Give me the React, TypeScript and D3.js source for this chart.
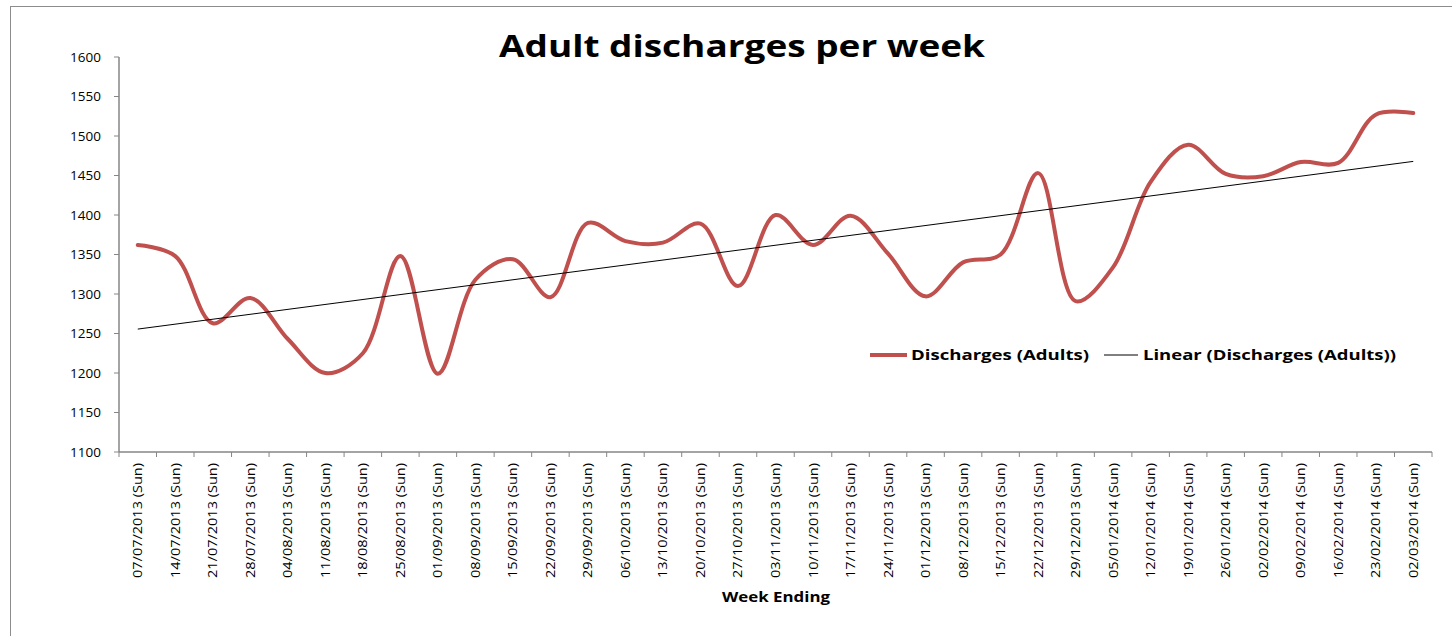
import React from "react";
import * as d3 from "d3";

const weeks: string[] = [
  "07/07/2013", "14/07/2013", "21/07/2013", "28/07/2013",
  "04/08/2013", "11/08/2013", "18/08/2013", "25/08/2013",
  "01/09/2013", "08/09/2013", "15/09/2013", "22/09/2013", "29/09/2013",
  "06/10/2013", "13/10/2013", "20/10/2013", "27/10/2013",
  "03/11/2013", "10/11/2013", "17/11/2013", "24/11/2013",
  "01/12/2013", "08/12/2013", "15/12/2013", "22/12/2013", "29/12/2013",
  "05/01/2014", "12/01/2014", "19/01/2014", "26/01/2014",
  "02/02/2014", "09/02/2014", "16/02/2014", "23/02/2014", "02/03/2014",
];

const discharges: number[] = [
  1362, 1348, 1263, 1295,
  1243, 1200, 1225, 1348,
  1199, 1318, 1344, 1296, 1390,
  1367, 1365, 1389, 1310,
  1400, 1362, 1399, 1351,
  1297, 1340, 1350, 1453, 1291,
  1334, 1442, 1489, 1452,
  1449, 1467, 1466, 1527, 1529,
];

const yTicks: number[] = [1100, 1150, 1200, 1250, 1300, 1350, 1400, 1450, 1500, 1550, 1600];

const title = "Adult discharges per week";
const xTitle = "Week Ending";
const seriesName = "Discharges (Adults)";
const trendName = "Linear (Discharges (Adults))";

const W = 1452;
const H = 636;
const plotLeft = 119;
const plotRight = 1432;
const plotTop = 57;
const plotBottom = 452;
const RED = "#C0504D";
const AXIS = "#868686";
const FONT = "'Open Sans', 'Noto Sans', sans-serif";

export default function App() {
  const x = d3.scaleBand<string>().domain(weeks).range([plotLeft, plotRight]).padding(0);
  const y = d3.scaleLinear().domain([1100, 1600]).range([plotBottom, plotTop]);
  const cx = (w: string) => (x(w) as number) + x.bandwidth() / 2;

  const pts: [number, number][] = discharges.map((v, i) => [cx(weeks[i]), y(v)]);
  const line = d3.line<[number, number]>().x((d) => d[0]).y((d) => d[1]).curve(d3.curveCatmullRom.alpha(0.5));

  // linear regression trend
  const n = discharges.length;
  const idx = discharges.map((_, i) => i + 1);
  const mx = d3.mean(idx) as number;
  const my = d3.mean(discharges) as number;
  let sxy = 0, sxx = 0;
  idx.forEach((xi, i) => { sxy += (xi - mx) * (discharges[i] - my); sxx += (xi - mx) * (xi - mx); });
  const slope = sxy / sxx;
  const intercept = my - slope * mx;
  const t0 = intercept + slope * 1;
  const t1 = intercept + slope * n;

  return (
    <svg width={W} height={H} style={{ position: "absolute", left: 0, top: 0, background: "#fff" }} fontFamily={FONT}>
      <rect x={10.5} y={6.5} width={1600} height={800} fill="#fff" stroke="#8c8c8c" strokeWidth={1} />
      <text x={742} y={57} textAnchor="middle" fontSize={31} fontWeight="bold" fill="#000" textLength={486} lengthAdjust="spacingAndGlyphs">{title}</text>

      {/* y axis */}
      <line x1={plotLeft} x2={plotLeft} y1={plotTop} y2={plotBottom} stroke={AXIS} strokeWidth={1.5} />
      {yTicks.map((t) => (
        <g key={t}>
          <line x1={plotLeft - 5} x2={plotLeft} y1={y(t)} y2={y(t)} stroke={AXIS} strokeWidth={1} />
          <text x={101} y={y(t)} dy="0.36em" textAnchor="end" fontSize={13.5} fill="#000">{t}</text>
        </g>
      ))}

      {/* x axis */}
      <line x1={plotLeft} x2={plotRight} y1={plotBottom} y2={plotBottom} stroke={AXIS} strokeWidth={1.5} />
      {weeks.map((w, i) => (
        <line key={"t" + i} x1={x(w) as number} x2={x(w) as number} y1={plotBottom} y2={plotBottom + 5} stroke={AXIS} strokeWidth={1} />
      ))}
      <line x1={plotRight} x2={plotRight} y1={plotBottom} y2={plotBottom + 5} stroke={AXIS} strokeWidth={1} />
      {weeks.map((w, i) => (
        <text key={"l" + i} transform={`translate(${cx(w)},${plotBottom + 11}) rotate(-90)`} dy="0.36em" textAnchor="end" fontSize={12.5} fill="#000" textLength={115} lengthAdjust="spacingAndGlyphs">{w + " (Sun)"}</text>
      ))}
      <text x={776} y={602} textAnchor="middle" fontSize={14.5} fontWeight="bold" fill="#000" textLength={108} lengthAdjust="spacingAndGlyphs">{xTitle}</text>

      {/* series */}
      <path d={line(pts) || ""} fill="none" stroke={RED} strokeWidth={4} strokeLinejoin="round" strokeLinecap="round" />
      <line x1={cx(weeks[0])} x2={cx(weeks[n - 1])} y1={y(t0)} y2={y(t1)} stroke="#000" strokeWidth={1} />

      {/* legend */}
      <line x1={870} x2={907} y1={355} y2={355} stroke={RED} strokeWidth={4} />
      <text x={911} y={355} dy="0.36em" fontSize={15} fontWeight="bold" fill="#000" textLength={178} lengthAdjust="spacingAndGlyphs">{seriesName}</text>
      <line x1={1104} x2={1138} y1={355} y2={355} stroke="#000" strokeWidth={1} />
      <text x={1143} y={355} dy="0.36em" fontSize={15} fontWeight="bold" fill="#000" textLength={253} lengthAdjust="spacingAndGlyphs">{trendName}</text>
    </svg>
  );
}
